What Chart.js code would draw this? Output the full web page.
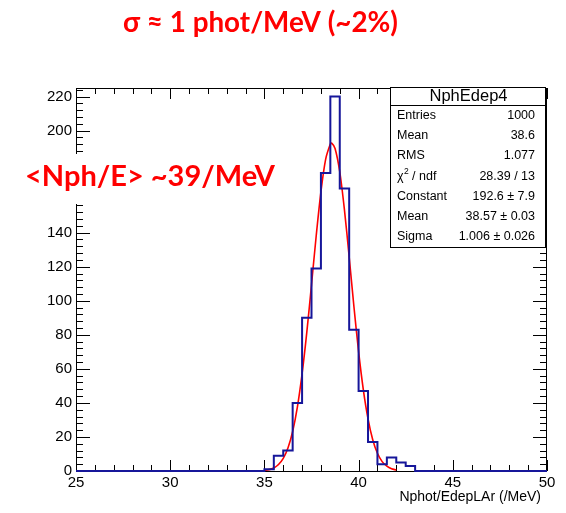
<!DOCTYPE html>
<html>
<head>
<meta charset="utf-8">
<script src="https://cdn.jsdelivr.net/npm/chart.js@4.4.1/dist/chart.umd.min.js"></script>
<style>
  html, body { margin: 0; padding: 0; background: #fff; }
  canvas { display: block; }
</style>
</head>
<body>
<canvas id="histChart" width="566" height="513"></canvas>
<script>
// NphEdep4 histogram: 50 bins of 0.5 /MeV between 25 and 50
const xMin = 25, xMax = 50, binWidth = 0.5;
const counts = [
  0, 0, 0, 0, 0, 0, 0, 0, 0, 0,          // 25 - 30
  0, 0, 0, 0, 0, 0, 0, 0, 0, 0,          // 30 - 35
  1, 9, 12, 40, 90, 119, 175, 220, 166, 83, // 35 - 40
  47, 17, 4, 8, 5, 3, 0, 0, 0, 0,        // 40 - 45
  0, 0, 0, 0, 0, 0, 0, 0, 0, 0           // 45 - 50
];

// gaussian fit curve (fit range 35 - 42)
const fitX = [35, 35.25, 35.5, 35.75, 36, 36.25, 36.5, 36.75, 37, 37.25, 37.5, 37.75, 38, 38.25, 38.5, 38.57,
  38.75, 39, 39.25, 39.5, 39.75, 40, 40.25, 40.5, 40.75, 41, 41.25, 41.5, 41.75, 42];
const fitY = [0.4, 0.8, 1.8, 3.8, 7.4, 13.5, 23.2, 37.5, 57, 81.4, 109.4, 138.2, 164, 183.1, 192.1, 192.6,
  189.5, 175.8, 153.3, 125.7, 96.8, 70.1, 47.8, 30.6, 18.4, 10.4, 5.5, 2.8, 1.3, 0.6];

const xTickValues = [25, 30, 35, 40, 45, 50];
const yTickValues = [0, 20, 40, 60, 80, 100, 120, 140, 160, 180, 200, 220];
const yMax = 225;

const statsTitle = 'NphEdep4';
const statsRows = [
  ['Entries', '1000'],
  ['Mean', '38.6'],
  ['RMS', '1.077'],
  ['chi2', '28.39 / 13'],
  ['Constant', '192.6 \u00b1 7.9'],
  ['Mean', '38.57 \u00b1 0.03'],
  ['Sigma', '1.006 \u00b1 0.026']
];

const topNote = '\u03c3 \u2248 1 phot/MeV (~2%)';
const sideNote = '<Nph/E> ~39/MeV';
const xTitle = 'Nphot/EdepLAr (/MeV)';

// histogram outline points (step before)
const histPoints = [{ x: xMin, y: 0 }];
counts.forEach((c, i) => histPoints.push({ x: xMin + i * binWidth, y: c }));
histPoints.push({ x: xMax, y: counts[counts.length - 1] });

const fitPoints = fitX.map((x, i) => ({ x: x, y: fitY[i] }));

const rootFont = '"Liberation Sans", Arial, sans-serif';

// ROOT-like frame: ticks pointing inside on all four sides
const rootFrame = {
  id: 'rootFrame',
  beforeDatasetsDraw(chart) {
    const { ctx, chartArea: a, scales: { x, y } } = chart;
    ctx.save();
    ctx.strokeStyle = '#000';
    ctx.lineWidth = 1;
    ctx.strokeRect(a.left + 0.5, a.top + 0.5, a.right - a.left - 1, a.bottom - a.top);
    ctx.beginPath();
    for (let v = xMin; v <= xMax; v += 1) {
      const px = Math.round(x.getPixelForValue(v)) + 0.5;
      const len = (v % 5 === 0) ? 11 : 6;
      ctx.moveTo(px, a.bottom); ctx.lineTo(px, a.bottom - len);
      ctx.moveTo(px, a.top); ctx.lineTo(px, a.top + len);
    }
    for (let v = 0; v <= yMax; v += 4) {
      const py = Math.round(y.getPixelForValue(v)) + 0.5;
      const len = (v % 20 === 0) ? 14 : 7;
      ctx.moveTo(a.left, py); ctx.lineTo(a.left + len, py);
      ctx.moveTo(a.right, py); ctx.lineTo(a.right - len, py);
    }
    ctx.stroke();
    ctx.restore();
  },
  afterDraw(chart) {
    const { ctx, chartArea: a } = chart;
    ctx.save();

    // x axis title
    ctx.fillStyle = '#000';
    ctx.font = '14px ' + rootFont;
    ctx.textAlign = 'right';
    ctx.textBaseline = 'middle';
    ctx.fillText(xTitle, a.right - 6, 497);

    // stats box
    const bx = 390, by = 87, bw = 155, bh = 160;
    ctx.fillStyle = '#fff';
    ctx.fillRect(bx, by, bw, bh);
    ctx.strokeStyle = '#000';
    ctx.lineWidth = 1;
    ctx.strokeRect(bx + 0.5, by + 0.5, bw, bh);
    ctx.beginPath();
    ctx.moveTo(bx, by + 18.5); ctx.lineTo(bx + bw, by + 18.5);
    ctx.stroke();
    ctx.fillStyle = '#000';
    ctx.font = '16.5px ' + rootFont;
    ctx.textAlign = 'center';
    ctx.fillText(statsTitle, bx + bw / 2 + 1, by + 9);
    ctx.font = '12.5px ' + rootFont;
    statsRows.forEach((r, i) => {
      const ry = 115.5 + i * 20.2;
      ctx.textAlign = 'left';
      if (r[0] === 'chi2') {
        ctx.fillText('\u03c7', bx + 7, ry);
        const w = ctx.measureText('\u03c7').width;
        ctx.font = '8.5px ' + rootFont;
        ctx.fillText('2', bx + 7 + w + 0.5, ry - 4);
        ctx.font = '12.5px ' + rootFont;
        ctx.fillText(' / ndf', bx + 7 + w + 5, ry);
      } else {
        ctx.fillText(r[0], bx + 7, ry);
      }
      ctx.textAlign = 'right';
      ctx.fillText(r[1], bx + bw - 10, ry);
    });

    // red annotations
    ctx.fillStyle = '#fff';
    ctx.fillRect(18, 154, 266, 50);
    ctx.fillStyle = '#ff0000';
    ctx.font = 'bold 29px Lato, "Open Sans", sans-serif';
    ctx.textAlign = 'left';
    ctx.textBaseline = 'alphabetic';
    ctx.fillText(sideNote, 25, 186, 250);
    ctx.font = 'bold 28px Lato, "Open Sans", sans-serif';
    ctx.fillText(topNote, 123, 32, 275);

    ctx.restore();
  }
};

const ctx = document.getElementById('histChart').getContext('2d');
new Chart(ctx, {
  type: 'line',
  data: {
    datasets: [
      {
        label: 'NphEdep4',
        data: histPoints,
        stepped: true,
        borderColor: '#16169a',
        borderWidth: 2,
        pointRadius: 0,
        fill: false,
        clip: 4
      },
      {
        label: 'gaus fit',
        data: fitPoints,
        borderColor: '#ff0000',
        borderWidth: 1.6,
        tension: 0.3,
        pointRadius: 0,
        fill: false,
        clip: 4
      }
    ]
  },
  options: {
    responsive: false,
    animation: false,
    devicePixelRatio: 1,
    layout: { padding: { top: 88, right: 19, left: 0, bottom: 0 } },
    plugins: { legend: { display: false }, tooltip: { enabled: false } },
    scales: {
      x: {
        type: 'linear',
        min: xMin,
        max: xMax,
        grid: { display: false, drawTicks: false },
        border: { display: false },
        afterBuildTicks: (s) => { s.ticks = xTickValues.map(v => ({ value: v })); },
        afterFit: (s) => { s.height = 42; },
        ticks: {
          padding: 3,
          maxRotation: 0,
          color: '#000',
          font: { family: rootFont, size: 15 }
        }
      },
      y: {
        min: 0,
        max: yMax,
        grid: { display: false, drawTicks: false },
        border: { display: false },
        afterBuildTicks: (s) => { s.ticks = yTickValues.map(v => ({ value: v })); },
        afterFit: (s) => { s.width = 76; },
        ticks: {
          padding: 4,
          color: '#000',
          font: { family: rootFont, size: 15 }
        }
      }
    }
  },
  plugins: [rootFrame]
});
</script>
</body>
</html>
